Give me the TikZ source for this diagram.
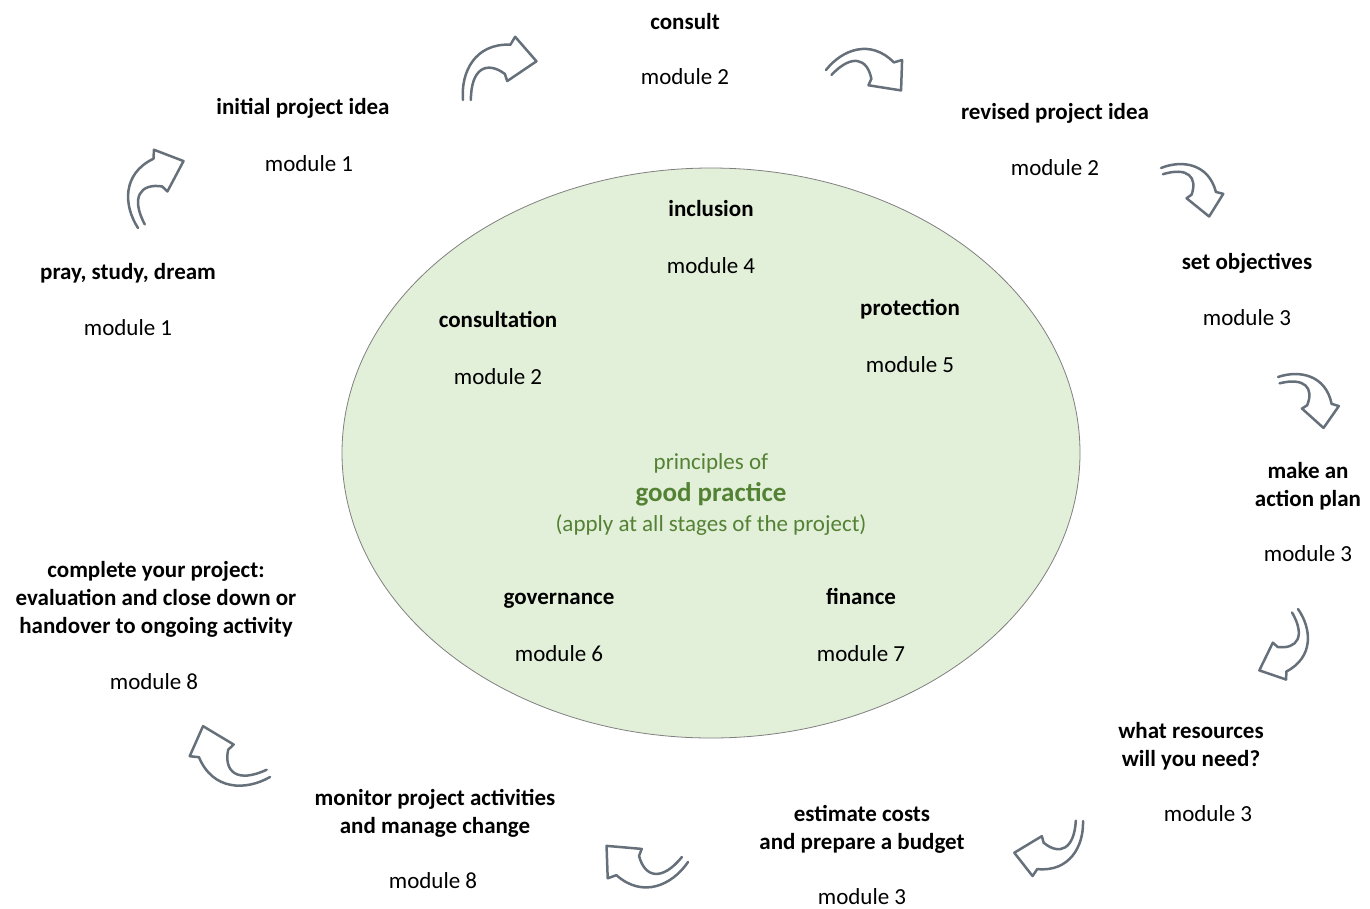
\documentclass[tikz,border=0pt]{standalone}
\usepackage{fontspec}
\setmainfont{Carlito}
\usetikzlibrary{shapes.geometric}
\definecolor{arrowgray}{HTML}{66707A}
\definecolor{goodgreen}{HTML}{548235}
\definecolor{ellfill}{HTML}{E2EFD9}
\definecolor{ellline}{HTML}{808080}
\tikzset{
  lblm/.style={font=\fontsize{23}{28}\selectfont\bfseries, align=center, inner sep=0pt, text=black, yshift=-2pt},
  lbl/.style={lblm, text height=16pt, text depth=5pt},
  mod/.style={font=\fontsize{23}{28}\selectfont, inner sep=0pt, text=black, text height=16pt, text depth=5pt, yshift=-2pt},
  grn/.style={font=\fontsize{23}{28}\selectfont, inner sep=0pt, text=goodgreen, text height=16pt, text depth=5pt, yshift=-2pt},
  arrowline/.style={draw=arrowgray, line width=2.5pt, line join=round, line cap=round},
  curvearrow/.pic={
    \draw[arrowline] (0,0) .. controls (-0.03,-0.35) and (0.15,-0.72) .. (0.6,-0.7)
      -- (0.66,-0.8) -- (0.93,-0.49) -- (0.56,-0.24) -- (0.53,-0.33)
      .. controls (0.3,-0.5) and (0.1,-0.4) .. (0.1,0);
  }
}
\begin{document}
\begin{tikzpicture}[x=1pt,y=-1pt]
\useasboundingbox (0,0) rectangle (1370,908);
% central ellipse
\node[draw=ellline, fill=ellfill, line width=0.8pt, ellipse, minimum width=738pt, minimum height=570pt, inner sep=0pt] (ell) at (711,453) {};
% inner labels
\node[lbl] (inc) at (711,209) {inclusion};
\node[mod] (incm) at (711,266) {module 4};
\node[lbl] (con) at (498,320) {consultation};
\node[mod] (conm) at (498,377) {module 2};
\node[lbl] (pro) at (910,308) {protection};
\node[mod] (prom) at (910,365) {module 5};
\node[lbl] (gov) at (559,597) {governance};
\node[mod] (govm) at (559,654) {module 6};
\node[lbl] (fin) at (861,597) {finance};
\node[mod] (finm) at (861,654) {module 7};
\node[grn] (pr1) at (711,462) {principles of};
\node[grn, font=\fontsize{27}{30}\selectfont\bfseries, text height=18pt, text depth=6pt] (pr2) at (711,493) {good practice};
\node[grn] (pr3) at (711,524) {(apply at all stages of the project)};
% outer labels
\node[lbl] (s1) at (685,22) {consult};
\node[mod] (s1m) at (685,77) {module 2};
\node[lbl] (s2) at (303,107) {initial project idea};
\node[mod] (s2m) at (309,164) {module 1};
\node[lbl] (s3) at (1055,112) {revised project idea};
\node[mod] (s3m) at (1055,168) {module 2};
\node[lbl] (s4) at (128,272) {pray, study, dream};
\node[mod] (s4m) at (128,328) {module 1};
\node[lbl] (s5) at (1247,262) {set objectives};
\node[mod] (s5m) at (1247,318) {module 3};
\node[lblm] (s6) at (1308,484) {make an\\action plan};
\node[mod] (s6m) at (1308,554) {module 3};
\node[lblm] (s7) at (156,597) {complete your project:\\evaluation and close down or\\handover to ongoing activity};
\node[mod] (s7m) at (154,682) {module 8};
\node[lblm] (s8) at (1191,744) {what resources\\will you need?};
\node[mod] (s8m) at (1208,814) {module 3};
\node[lblm] (s9) at (862,827) {estimate costs\\and prepare a budget};
\node[mod] (s9m) at (862,897) {module 3};
\node[lblm] (s10) at (435,811) {monitor project activities\\and manage change};
\node[mod] (s10m) at (433,881) {module 8};
% curved arrows
\pic[rotate=28, scale=77] at (138,228) {curvearrow};
\pic[rotate=0, scale=79] at (463,100) {curvearrow};
\pic[rotate=-43, scale=74] at (826,70) {curvearrow};
\pic[rotate=-73, scale=65] at (1161,168) {curvearrow};
\pic[rotate=-76, scale=65] at (1278,377) {curvearrow};
\pic[rotate=-150, scale=69] at (1298,609) {curvearrow};
\pic[rotate=-183, scale=72] at (1083,821) {curvearrow};
\pic[rotate=141, scale=79] at (688,862) {curvearrow};
\pic[rotate=115, scale=80] at (270,777) {curvearrow};
\end{tikzpicture}
\end{document}
